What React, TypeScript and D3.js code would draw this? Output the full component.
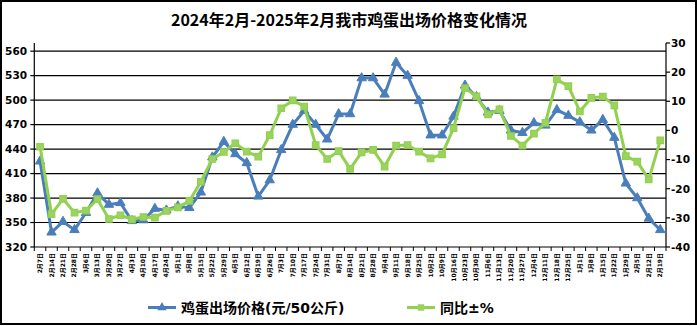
import React from "react";
import * as d3 from "d3";

const dates = [
  "2月7日","2月14日","2月21日","2月28日","3月6日","3月13日","3月20日","3月27日",
  "4月3日","4月10日","4月17日","4月24日","5月1日","5月8日","5月15日","5月22日","5月29日",
  "6月5日","6月12日","6月19日","6月26日","7月3日","7月10日","7月17日","7月24日","7月31日",
  "8月7日","8月14日","8月21日","8月28日","9月4日","9月11日","9月18日","9月25日",
  "10月2日","10月9日","10月16日","10月23日","10月30日","11月6日","11月13日","11月20日","11月27日",
  "12月4日","12月11日","12月18日","12月25日","1月1日","1月8日","1月15日","1月22日","1月29日",
  "2月5日","2月12日","2月19日"
];

const price = [
  425,338,351,341,362,386,372,374,352,353,367,365,370,368,387,430,449,434,
  423,382,402,439,470,487,470,452,483,483,527,527,507,546,530,499,457,457,480,
  518,504,485,487,463,460,472,469,488,481,473,463,476,454,398,380,355,341
];

const yoy = [
  -5.6,-28.7,-23.5,-28.2,-27.5,-23.6,-30.4,-29.1,-30.5,-29.7,-29.9,-27.6,-26.4,-24.2,-17.6,-9.8,-7.4,-4.4,
  -7.3,-9,-1.6,7.6,10.3,8.2,-5,-9.8,-7.1,-13.2,-7.5,-6.7,-12.4,-5.2,-5,-7.3,-9.6,-8.2,0.8,
  14.5,11.7,5.5,7.2,-1.9,-5.2,-1.1,2.6,17.5,15.2,6.5,11.2,11.6,8.6,-8.8,-10.7,-16.8,-3.4
];

const leftTicks = [320,350,380,410,440,470,500,530,560];
const rightTicks = [-40,-30,-20,-10,0,10,20,30];

const title = "2024年2月-2025年2月我市鸡蛋出场价格变化情况";
const seriesNames = ["鸡蛋出场价格(元/50公斤)", "同比±%"];

const W = 697, H = 326;
const BLUE = "#4A7EBB";
const GREEN = "#92D050";

export default function App() {
  const x = d3.scaleBand<string>().domain(dates).range([34.3, 666]).padding(0);
  const bw = x.bandwidth();
  const cx = (d: string) => (x(d) as number) + bw / 2;
  const yL = d3.scaleLinear().domain([320, 570]).range([247, 43]);
  const yR = d3.scaleLinear().domain([-40, 30]).range([247, 43]);

  const lineL = d3.line<number>().x((_, i) => cx(dates[i])).y(v => yL(v));
  const lineR = d3.line<number>().x((_, i) => cx(dates[i])).y(v => yR(v));

  const tri = d3.symbol().type(d3.symbolTriangle).size(38)();
  const sq = d3.symbol().type(d3.symbolSquare).size(42)();

  const font = "'DejaVu Sans', 'Noto Sans CJK SC', sans-serif";
  const xl = 34.3, xr = 666, yb = 247, yt = 43;

  return (
    <svg width={W} height={H} style={{ position: "absolute", left: 0, top: 0, background: "#fff" }}>
      <rect x={1} y={1} width={695} height={323} fill="#fff" stroke="#000" strokeWidth={2} />
      <text x={349} y={26} textAnchor="middle" fontFamily="'Noto Sans CJK SC', sans-serif"
        fontWeight="bold" fontSize={16} textLength={356} lengthAdjust="spacingAndGlyphs">{title}</text>

      {/* gridlines */}
      {leftTicks.filter(t => t > 320).map(t => (
        <line key={"g" + t} x1={xl} x2={xr} y1={yL(t)} y2={yL(t)} stroke="#000" strokeWidth={1.2} />
      ))}
      {/* axes */}
      <line x1={xl} x2={xl} y1={yt} y2={yb} stroke="#000" strokeWidth={1.2} />
      <line x1={xr} x2={xr} y1={yt} y2={yb} stroke="#000" strokeWidth={1.2} />
      <line x1={xl} x2={xr} y1={yb} y2={yb} stroke="#000" strokeWidth={1.2} />
      {leftTicks.map(t => (
        <g key={"l" + t}>
          <line x1={xl - 4} x2={xl} y1={yL(t)} y2={yL(t)} stroke="#000" strokeWidth={1.2} />
          <text x={27} y={yL(t) + 3.8} textAnchor="end" fontFamily={font} fontWeight="bold" fontSize={10.5}>{t}</text>
        </g>
      ))}
      {rightTicks.map(t => (
        <g key={"r" + t}>
          <line x1={xr} x2={xr + 4} y1={yR(t)} y2={yR(t)} stroke="#000" strokeWidth={1.2} />
          <text x={671} y={yR(t) + 3.8} textAnchor="start" fontFamily={font} fontWeight="bold" fontSize={10.5}>{t}</text>
        </g>
      ))}
      {dates.map(d => (
        <line key={"xt" + d} x1={x(d) as number} x2={x(d) as number} y1={yb} y2={yb + 4} stroke="#000" strokeWidth={1} />
      ))}
      <line x1={xr} x2={xr} y1={yb} y2={yb + 4} stroke="#000" strokeWidth={1} />
      {dates.map(d => (
        <text key={"xl" + d} transform={`translate(${cx(d) + 2},${253}) rotate(-90)`} textAnchor="end"
          fontFamily={font} fontWeight="bold" fontSize={6}>{d}</text>
      ))}

      {/* series */}
      <path d={lineL(price) || ""} fill="none" stroke={BLUE} strokeWidth={3} strokeLinejoin="round" />
      {price.map((v, i) => (
        <path key={"pt" + i} d={tri || ""} transform={`translate(${cx(dates[i])},${yL(v)})`} fill={BLUE} stroke={BLUE} strokeWidth={1} />
      ))}
      <path d={lineR(yoy) || ""} fill="none" stroke={GREEN} strokeWidth={3} strokeLinejoin="round" />
      {yoy.map((v, i) => (
        <path key={"ps" + i} d={sq || ""} transform={`translate(${cx(dates[i])},${yR(v)})`} fill="#9BD35E" stroke={GREEN} strokeWidth={1.2} />
      ))}

      {/* legend */}
      <line x1={148} x2={176} y1={307.5} y2={307.5} stroke={BLUE} strokeWidth={3} />
      <path d={tri || ""} transform="translate(162,307.5)" fill={BLUE} />
      <text x={181} y={312.5} fontFamily={font} fontWeight="bold" fontSize={14}>{seriesNames[0]}</text>
      <line x1={407} x2={435} y1={307.5} y2={307.5} stroke={GREEN} strokeWidth={3} />
      <path d={sq || ""} transform="translate(421,307.5)" fill="#9BD35E" />
      <text x={440} y={312.5} fontFamily={font} fontWeight="bold" fontSize={14}>{seriesNames[1]}</text>
    </svg>
  );
}
